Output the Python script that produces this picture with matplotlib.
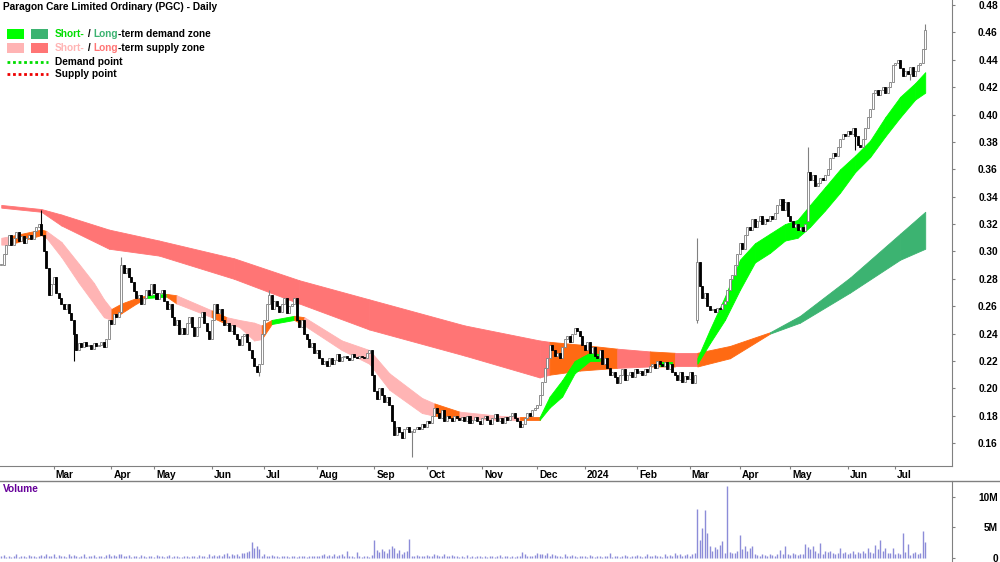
"""
PGC daily chart with supply / demand zones and volume panel.
Writes out.png (1000x562).
"""

import matplotlib
matplotlib.use("Agg")
import matplotlib.pyplot as plt
import matplotlib.transforms as mtransforms
from matplotlib.patches import Rectangle
from matplotlib.lines import Line2D
import numpy as np
import pandas as pd

plt.rcParams["font.family"] = ["Liberation Sans", "DejaVu Sans"]

# ── Data ───────────────────────────────────────────────────────────────────────

START_DATE = "2023-01-31"
ASX_HOLIDAYS = ["2023-04-07", "2023-04-10", "2023-04-25", "2023-06-12",
                "2023-12-25", "2023-12-26", "2024-01-01", "2024-01-26",
                "2024-03-29", "2024-04-01", "2024-04-25", "2024-06-10"]

# daily closes, thousandths of a dollar
closes = [
    290, 298, 305, 312, 305, 310, 314, 308, 311, 306,
    310, 312, 309, 315, 318, 320, 312, 300, 288,
    268, 276, 281, 270, 266, 262, 258, 262, 255, 250,
    240, 228, 233, 230, 234, 231, 232, 229, 233, 231,
    232, 234, 230, 236, 250, 247, 254, 252, 256,
    290, 284, 288, 281, 278, 271, 266, 268, 262, 266,
    272, 268, 276, 270, 265, 270, 272, 264, 258, 262,
    252, 246, 250, 240, 244, 240, 248, 252, 245,
    238, 245, 252, 256, 248, 242, 236, 250, 262, 255,
    258, 250, 246, 248, 242, 246, 240, 236, 232, 238,
    240, 234, 228, 222, 216, 212, 218, 240, 250,
    262, 268, 258, 264, 260, 256, 262, 266, 255, 260,
    262, 266, 250, 245, 250, 240, 236, 230, 233, 226,
    228, 222, 218, 220, 216, 222, 218, 221, 225,
    220, 223, 224, 222, 221, 225, 223, 222, 224, 223,
    222, 226, 228, 210, 198, 192, 200, 195, 190, 194,
    188, 176, 166, 172, 168, 164, 170, 172, 168,
    168, 170, 172, 170, 174, 172, 176, 175, 180, 186,
    182, 178, 184, 176, 180, 178, 176, 180, 178, 177,
    179, 176, 180, 175, 177, 179, 176, 174, 178,
    180, 177, 174, 178, 181, 176, 178, 175, 179, 177,
    180, 182, 178, 176, 172, 174, 178, 182, 180, 184,
    186, 188, 195, 205, 215, 222, 232, 228, 224,
    226, 222, 230, 236, 238, 234, 240, 244, 242, 238,
    232, 228, 234, 226, 230, 224, 222, 228, 218, 222,
    215, 210, 212, 208, 204, 210, 214, 206, 210,
    212, 208, 214, 211, 213, 210, 214, 212, 216, 218,
    215, 220, 218, 216, 219, 214, 218, 212, 210, 206,
    212, 205, 209, 207, 212, 204, 210,
    292, 275, 266, 270, 260, 257, 258, 256, 259, 258, 262, 264,
    272, 280, 283, 290, 298, 306, 302, 312, 318, 316,
    324, 318, 322, 326, 320, 324, 322, 326, 324,
    328, 334, 338, 330, 336, 326, 322, 318, 320, 316,
    318, 315, 320,
    358, 352, 356, 348, 350, 354, 352, 356, 360,
    368, 372, 370, 376, 382, 386, 384, 388, 386, 390,
    384, 378, 376, 382, 390, 398, 404, 416, 418, 414,
    418, 420, 416, 420, 424, 436, 438, 440, 434,
    428, 432, 430, 435, 428, 432, 436, 438, 448, 462,
]
first_open = 290
gap_opens = {278: 250, 322: 322}
spike_highs = {16: 330, 48: 296, 107: 272, 278: 310, 322: 376, 369: 466}
spike_lows = {29: 220, 103: 209, 164: 150, 278: 248, 341: 374, 363: 425}

# daily volume, tenths of a million shares
volume = [
    3, 5, 2, 4, 1, 3, 6, 2, 4, 3,
    2, 5, 3, 4, 2, 3, 5, 4, 7,
    3, 4, 6, 2, 5, 3, 4, 2, 6, 3,
    5, 4, 2, 3, 6, 2, 4, 3, 5, 2,
    3, 4, 2, 5, 6, 4, 5, 3, 7,
    6, 4, 3, 5, 2, 4, 3, 2, 5, 3,
    2, 4, 3, 2, 5, 3, 4, 2, 3, 5,
    2, 3, 4, 2, 2, 4, 3, 2, 4,
    3, 2, 5, 3, 4, 2, 6, 3, 5, 4,
    5, 3, 7, 8, 4, 6, 5, 7, 4, 9,
    8, 10, 12, 26, 17, 20, 15, 3, 6,
    4, 3, 5, 3, 4, 2, 3, 4, 3, 2,
    3, 4, 2, 3, 4, 3, 2, 4, 3, 3,
    4, 3, 5, 6, 4, 5, 3, 7, 4,
    5, 6, 4, 12, 3, 4, 2, 10, 3, 2,
    4, 3, 2, 5, 30, 13, 10, 15, 12, 9,
    14, 20, 17, 8, 13, 7, 10, 12, 31,
    4, 3, 5, 4, 3, 4, 5, 3, 4, 6,
    5, 3, 4, 6, 4, 3, 5, 4, 3, 2,
    4, 2, 5, 2, 3, 2, 4, 3, 2,
    3, 2, 4, 3, 2, 3, 5, 2, 3, 4,
    2, 3, 2, 4, 3, 10, 6, 4, 3, 4,
    5, 8, 6, 7, 5, 8, 4, 6, 5,
    4, 3, 2, 6, 3, 4, 5, 3, 2, 3,
    4, 3, 2, 5, 3, 2, 4, 3, 2, 4,
    3, 8, 2, 4, 3, 2, 4, 5, 3,
    2, 4, 3, 5, 3, 2, 4, 6, 3, 4,
    5, 3, 4, 2, 6, 4, 5, 3, 8, 5,
    6, 3, 5, 7, 4, 6, 9,
    80, 29, 49, 78, 41, 19, 12, 18, 14, 22, 28, 9,
    118, 10, 8, 9, 12, 37, 15, 20, 11, 17,
    20, 6, 5, 4, 6, 5, 4, 6, 5,
    4, 7, 13, 6, 20, 7, 5, 8, 6, 5,
    7, 6, 23, 18, 15, 20, 12, 9, 25,
    6, 12, 10, 12, 8, 7, 9, 17, 8, 10,
    6, 9, 11, 7, 10, 8, 12, 9, 16, 10,
    8, 22, 14, 30, 12, 16, 9, 8, 17,
    6, 9, 7, 41, 10, 23, 5, 8, 10, 7,
    9, 44, 27,
]

# long-term zone edges (trading-day index, thousandths) and state per segment
# S = supply, N = neutral, D = demand
long_day = [0, 16, 24, 43, 63, 93, 119, 147, 185, 215, 219, 231,
            246, 259, 269, 278, 291, 307, 319, 339, 359, 369]
long_top = [334, 331, 327, 316, 308, 295, 279, 265, 246, 235, 234, 232,
            229, 227, 226, 226, 231, 241, 253, 281, 313, 329]
long_bot = [332, 329, 319, 302, 297, 280, 262, 243, 224, 208, 210, 213,
            215, 216, 216, 216, 222, 240, 248, 270, 294, 302]
long_state = "SSSSSSSSSSNNSNSNNDDDDD"

# short-term zone edges (H = hidden behind long zone)
short_day = [0, 3, 16, 18, 24, 31, 37, 41, 44, 48, 54, 58, 66, 70, 84, 90,
             95, 101, 104, 108, 117, 121, 136, 147, 155, 168, 173, 183, 199,
             207, 215, 219, 224, 229, 235, 239, 259, 263, 268, 278, 283, 289,
             295, 301, 307, 313, 318, 323, 329, 335, 341, 347, 353, 359, 365,
             369]
short_top = [310, 311, 316, 315, 307, 291, 277, 265, 258, 262, 266, 268,
             269, 268, 257, 252, 250, 248, 246, 250, 253, 252, 235, 228, 211,
             193, 189, 183, 180, 179, 179, 194, 206, 220, 226, 225, 221, 219,
             219, 222, 243, 267, 294, 306, 313, 320, 323, 334, 347, 360, 370,
             381, 398, 413, 423, 431]
short_bot = [305, 305, 312, 310, 296, 277, 262, 252, 250, 255, 262, 266,
             267, 262, 252, 247, 245, 235, 236, 247, 250, 246, 228, 218, 199,
             182, 180, 178, 177, 177, 177, 186, 194, 211, 220, 220, 217, 216,
             216, 218, 233, 250, 272, 292, 299, 308, 310, 318, 330, 343, 358,
             369, 384, 398, 411, 416]
short_state = "SNNSSSSSNNNDNSNSSSNDNSSSSSNSSNDDDDDHHDHDDDDDDDDDDDDDDDDD"

month_labels = ["Mar", "Apr", "May", "Jun", "Jul", "Aug", "Sep", "Oct", "Nov",
                "Dec", "2024", "Feb", "Mar", "Apr", "May", "Jun", "Jul"]

# ── Style ──────────────────────────────────────────────────────────────────────

BG = "#ffffff"
AXIS = "#808080"
UP_EDGE = "#808080"
DOWN = "#000000"
VOL = "#8c8cd8"
LONG_COL = {"S": "#ff7575", "N": "#ff6a13", "D": "#3cb371"}
SHORT_COL = {"S": "#ffb4b4", "N": "#ff6a13", "D": "#00ff00"}
FS = 7.3

# ── Build OHLC ─────────────────────────────────────────────────────────────────

c = np.array(closes) / 1000
n = len(c)
o = np.concatenate([[first_open / 1000], c[:-1]])
for i, v in gap_opens.items():
    o[i] = v / 1000
hi = np.maximum(o, c)
lo = np.minimum(o, c)
for i, v in spike_highs.items():
    hi[i] = v / 1000
for i, v in spike_lows.items():
    lo[i] = v / 1000
x = np.arange(n)
up = c >= o

dates = pd.bdate_range(START_DATE, periods=n, freq="C", holidays=ASX_HOLIDAYS)
month_start = [i for i in range(1, n) if dates[i].month != dates[i - 1].month]

PX = 2.504  # pixels per trading day
XMAX = 952 / PX - 0.5

# ── Figure ─────────────────────────────────────────────────────────────────────

fig = plt.figure(figsize=(10, 5.62), dpi=100)
fig.patch.set_facecolor(BG)
ax = fig.add_axes([0, 96 / 562, 0.952, 466 / 562])
axv = fig.add_axes([0, 0, 0.952, 81 / 562])


def draw_zone(days, top, bot, states, colors, z):
    d = np.array(days)
    t = np.array(top) / 1000
    b = np.array(bot) / 1000
    for i in range(len(d) - 1):
        col = colors.get(states[i])
        if col is None:
            continue
        ax.fill_between(d[i:i + 2], b[i:i + 2], t[i:i + 2], color=col,
                        linewidth=0.6, edgecolor=col, zorder=z)


draw_zone(long_day, long_top, long_bot, long_state, LONG_COL, 1)
draw_zone(short_day, short_top, short_bot, short_state, SHORT_COL, 2)

# candles
ax.vlines(x[up], lo[up], hi[up], color=UP_EDGE, linewidth=0.8, zorder=3)
ax.vlines(x[~up], lo[~up], hi[~up], color=DOWN, linewidth=0.8, zorder=3)
body = np.maximum(np.abs(c - o), 0.0008)
base = np.minimum(o, c)
ax.bar(x[up], body[up], bottom=base[up], width=0.8, facecolor="white",
       edgecolor=UP_EDGE, linewidth=0.6, zorder=4)
ax.bar(x[~up], body[~up], bottom=base[~up], width=0.8, facecolor=DOWN,
       edgecolor=DOWN, linewidth=0.6, zorder=4)

# ── Axes ───────────────────────────────────────────────────────────────────────

ax.set_xlim(-0.5, XMAX)
ax.set_ylim(0.1433, 0.4837)
ax.set_facecolor(BG)
for s in ("top", "left"):
    ax.spines[s].set_visible(False)
for s in ("right", "bottom"):
    ax.spines[s].set_color(AXIS)

yt = np.arange(0.16, 0.4801, 0.02)
ax.yaxis.tick_right()
ax.set_yticks(yt)
ax.set_yticklabels([f"{v:.2f}" for v in yt], fontweight="bold", fontsize=FS)
ax.tick_params(axis="y", length=2.5, color=AXIS, pad=30.5)
for lab in ax.get_yticklabels():
    lab.set_ha("right")

ticks = month_start[1:]
ax.set_xticks(ticks)
ax.set_xticklabels(month_labels[:len(ticks)], fontweight="bold", fontsize=FS)
ax.tick_params(axis="x", length=2.5, color=AXIS, pad=0.5)
shift = mtransforms.ScaledTranslation(2 / 100, 0, fig.dpi_scale_trans)
for lab in ax.get_xticklabels():
    lab.set_ha("left")
    lab.set_transform(lab.get_transform() + shift)

# volume panel
vol = np.array(volume) / 10
axv.vlines(x, 0, vol, color=VOL, linewidth=1.0)
axv.set_xlim(-0.5, XMAX)
axv.set_ylim(-0.65, 12.6)
for s in ("top", "left", "bottom"):
    axv.spines[s].set_visible(False)
axv.spines["right"].set_color(AXIS)
axv.set_xticks([])
axv.yaxis.tick_right()
axv.set_yticks([0, 5, 10])
axv.set_yticklabels(["0", "5M", "10M"], fontweight="bold", fontsize=FS)
axv.tick_params(axis="y", length=2.5, color=AXIS, pad=30.5)
for lab in axv.get_yticklabels():
    lab.set_ha("right")
axv.text(0.003, 1 - 8 / 81, "Volume", transform=axv.transAxes, color="#660099",
         fontweight="bold", fontsize=FS, va="center", ha="left")

fig.add_artist(Line2D([0, 1], [1 - 481 / 562] * 2, color=AXIS, linewidth=1.0))

# ── Title & legend ─────────────────────────────────────────────────────────────


def fy(py):
    return 1 - py / 562


fig.text(3 / 1000, fy(7), "Paragon Care Limited Ordinary (PGC) - Daily",
         fontweight="bold", fontsize=FS, va="center", ha="left")


def chain(parts, px, py):
    prev = fig.text(px / 1000, fy(py), parts[0][0], color=parts[0][1],
                    fontweight="bold", fontsize=FS, va="center", ha="left")
    for txt, col in parts[1:]:
        prev = ax.annotate(txt, xy=(1, 0), xycoords=prev, color=col,
                           fontweight="bold", fontsize=FS, va="bottom",
                           ha="left", annotation_clip=False)


rows = [
    (34, SHORT_COL["D"], LONG_COL["D"],
     [("Short-", "#00dd00"), (" / ", "black"), ("Long", LONG_COL["D"]),
      ("-term demand zone", "black")]),
    (48, SHORT_COL["S"], LONG_COL["S"],
     [("Short-", SHORT_COL["S"]), (" / ", "black"), ("Long", LONG_COL["S"]),
      ("-term supply zone", "black")]),
]
for py, c1, c2, parts in rows:
    for px, col in ((7, c1), (31, c2)):
        fig.add_artist(Rectangle((px / 1000, fy(py + 5)), 17 / 1000, 10 / 562,
                                 transform=fig.transFigure, facecolor=col,
                                 edgecolor="none"))
    chain(parts, 55, py)

for py, col, label in ((62, "#00dd00", "Demand point"),
                       (74, "#ee0000", "Supply point")):
    fig.add_artist(Line2D([7 / 1000, 48 / 1000], [fy(py)] * 2, color=col,
                          linewidth=2.0, linestyle=(0, (1, 1))))
    fig.text(55 / 1000, fy(py), label, fontweight="bold", fontsize=FS,
             va="center", ha="left")

fig.savefig("out.png", dpi=100, facecolor=BG)
